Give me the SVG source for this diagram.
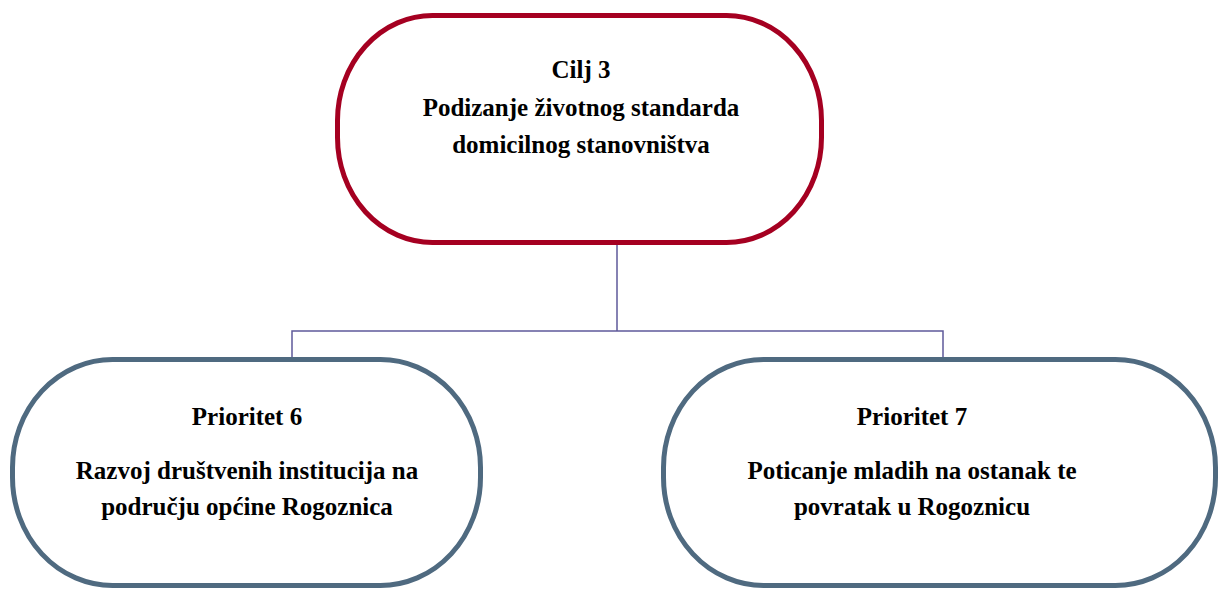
<svg xmlns="http://www.w3.org/2000/svg" width="1222" height="592" viewBox="0 0 1222 592">
<style>
.node{fill:#ffffff;stroke-width:5}
.goal{stroke:#A50021}
.prio{stroke:#4F6A80}
.t{font-family:"Liberation Serif",serif;font-weight:bold;font-size:25px;fill:#000;text-anchor:middle}
.conn{fill:none;stroke:#5F5A9A;stroke-width:1.5}
</style>
<rect width="1222" height="592" fill="#ffffff"/>
<g id="connectors">
<path class="conn" d="M617 245 V331 M292 357 V331 H943 V357"/>
</g>
<g id="cilj3">
<rect class="node goal" x="337.500" y="15.500" width="484" height="227" rx="95" ry="105"/>
<text class="t" x="581" y="78">Cilj 3</text>
<text class="t" x="581" y="116">Podizanje životnog standarda</text>
<text class="t" x="581" y="153">domicilnog stanovništva</text>
</g>
<g id="prioritet6">
<rect class="node prio" x="12.500" y="359.500" width="468" height="226" rx="100" ry="108"/>
<text class="t" x="247" y="425">Prioritet 6</text>
<text class="t" x="247" y="479">Razvoj društvenih institucija na</text>
<text class="t" x="247" y="515">području općine Rogoznica</text>
</g>
<g id="prioritet7">
<rect class="node prio" x="663.500" y="359.500" width="552" height="226" rx="100" ry="108"/>
<text class="t" x="912" y="425">Prioritet 7</text>
<text class="t" x="912" y="479">Poticanje mladih na ostanak te</text>
<text class="t" x="912" y="515">povratak u Rogoznicu</text>
</g>
</svg>
